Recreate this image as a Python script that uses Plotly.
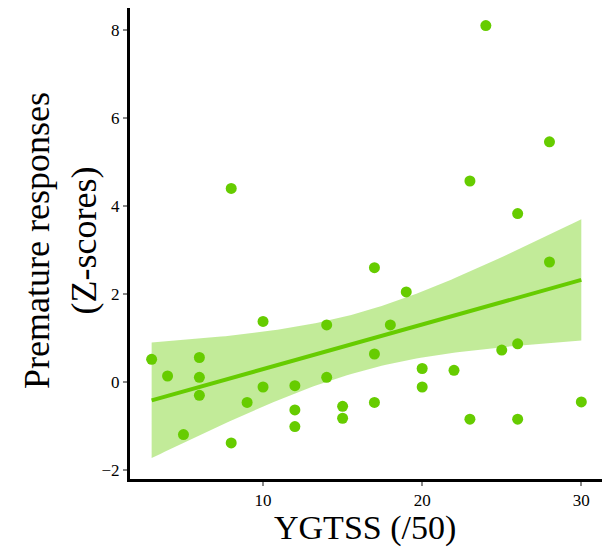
import numpy as np
import plotly.graph_objects as go

# YGTSS (/50) scores and premature responses (Z-scores)
ygtss = [3, 4, 6, 6, 6, 5, 8, 8, 9, 10, 10, 12, 12, 12, 14, 14, 15, 15,
         17, 17, 17, 18, 19, 20, 20, 22, 23, 23, 24, 25, 26, 26, 26, 28, 28, 30]
premature = [0.52, 0.14, 0.56, 0.11, -0.30, -1.19, -1.38, 4.40, -0.46, 1.38, -0.11,
             -0.08, -0.63, -1.01, 1.30, 0.11, -0.55, -0.82,
             2.60, 0.64, -0.46, 1.30, 2.05, 0.31, -0.11, 0.27, -0.84, 4.57,
             8.10, 0.73, 0.87, -0.84, 3.83, 2.73, 5.46, -0.45]
x_ticks = [10, 20, 30]
y_ticks = [-2, 0, 2, 4, 6, 8]

GREEN = "#66CC00"
BAND = "rgba(102,204,0,0.40)"
FONT = "Liberation Serif"

# linear fit with 95% confidence band
x = np.array(ygtss, float)
y = np.array(premature, float)
n = len(x)
slope, intercept = np.polyfit(x, y, 1)
resid = y - (slope * x + intercept)
s = np.sqrt(np.sum(resid ** 2) / (n - 2))
t_crit = 2.032  # t(0.975, df=34)
xg = np.linspace(x.min(), x.max(), 100)
yg = slope * xg + intercept
se = s * np.sqrt(1 / n + (xg - x.mean()) ** 2 / np.sum((x - x.mean()) ** 2))
upper = yg + t_crit * se
lower = yg - t_crit * se

fig = go.Figure()
fig.add_trace(go.Scatter(
    x=np.concatenate([xg, xg[::-1]]), y=np.concatenate([upper, lower[::-1]]),
    fill="toself", fillcolor=BAND, line=dict(width=0), mode="lines",
    hoverinfo="skip", showlegend=False))
fig.add_trace(go.Scatter(x=ygtss, y=premature, mode="markers",
                         marker=dict(color=GREEN, size=11), showlegend=False))
fig.add_trace(go.Scatter(x=xg, y=yg, mode="lines",
                         line=dict(color=GREEN, width=4), showlegend=False))

# page has an 8px body margin: figure is 602x539 and sits at (8, 8)
W, H = 602, 539
L, R, T, B = 122, 8, 0, 68
PW, PH = W - L - R, H - T - B

fig.update_layout(
    width=W, height=H,
    margin=dict(l=L, r=R, t=T, b=B),
    plot_bgcolor="white", paper_bgcolor="white",
    font=dict(family=FONT, color="black"),
    annotations=[
        dict(text="YGTSS (/50)", xref="paper", yref="paper",
             x=(357 - L) / PW, y=(PH - 520) / PH,
             xanchor="center", yanchor="middle", showarrow=False,
             font=dict(size=34, family=FONT, color="black")),
        dict(text="Premature responses<br>(Z-scores)", xref="paper", yref="paper",
             x=(52 - L) / PW, y=(PH - 233) / PH, textangle=-90,
             xanchor="center", yanchor="middle", showarrow=False,
             font=dict(size=36, family=FONT, color="black")),
    ],
)
fig.update_xaxes(
    range=[1.64, 31.3], tickvals=x_ticks, showgrid=False, zeroline=False,
    showline=True, linecolor="black", linewidth=3, automargin=False,
    ticks="outside", ticklen=4, tickwidth=1.5, tickcolor="#888",
    tickfont=dict(size=17, family=FONT, color="black"),
)
fig.update_yaxes(
    range=[-2.2, 8.5], tickvals=y_ticks, showgrid=False, zeroline=False,
    showline=True, linecolor="black", linewidth=3, automargin=False,
    ticks="outside", ticklen=4, tickwidth=1.5, tickcolor="#888",
    tickfont=dict(size=17, family=FONT, color="black"),
)
fig.write_html("out.html")
